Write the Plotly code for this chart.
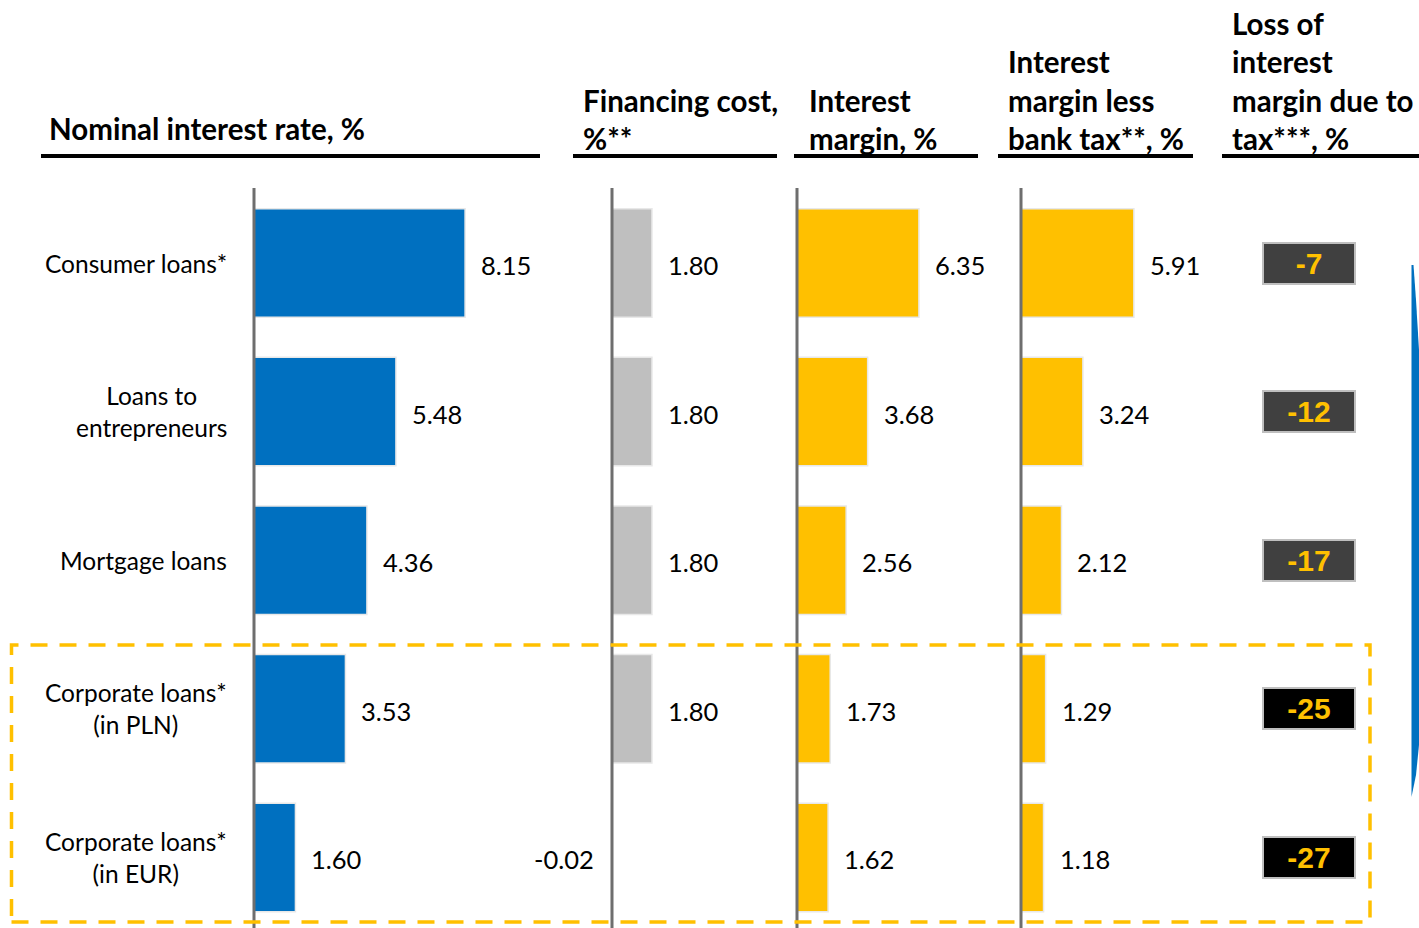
import plotly.graph_objects as go

# ---------------- data ----------------
categories = ["Consumer loans*", "Loans to<br>entrepreneurs", "Mortgage loans",
              "Corporate loans*<br>(in PLN)", "Corporate loans*<br>(in EUR)"]
nominal_rate = [8.15, 5.48, 4.36, 3.53, 1.60]
financing_cost = [1.80, 1.80, 1.80, 1.80, -0.02]
interest_margin = [6.35, 3.68, 2.56, 1.73, 1.62]
margin_less_tax = [5.91, 3.24, 2.12, 1.29, 1.18]
loss_due_to_tax = [-7, -12, -17, -25, -27]

panel_titles = [
    ["Nominal interest rate, %"],
    ["Financing cost,", "%**"],
    ["Interest", "margin, %"],
    ["Interest", "margin less", "bank tax**, %"],
    ["Loss of", "interest", "margin due to", "tax***, %"],
]

# ---------------- styling / layout ----------------
W, H = 1419, 928
FONT = "Lato"
BLUE, GRAY, YELLOW = "#0070C0", "#BFBFBF", "#FFC000"
AXIS_GRAY = "#6E6E6E"
loss_box_colors = ["#404040", "#404040", "#404040", "#000000", "#000000"]


def px(x):
    return x / W


def py(y):
    return 1 - y / H


ROW0, ROWSTEP = 263.0, 148.6
PLOT_TOP = 188
y_top = -(ROW0 - PLOT_TOP) / ROWSTEP
y_bot = (H - ROW0) / ROWSTEP

# (axis name, values, colour, start px, zero px, end px, px per unit)
panels = [
    ("x", nominal_rate, BLUE, 240, 254, 545, 25.9),
    ("x2", financing_cost, GRAY, 580, 612, 780, 22.2),
    ("x3", interest_margin, YELLOW, 785, 797, 1000, 19.2),
    ("x4", margin_less_tax, YELLOW, 1005, 1021, 1220, 19.1),
]

fig = go.Figure()
shapes = []
annotations = []
layout_axes = {}

for name, vals, col, start, zero, end, scale in panels:
    fig.add_trace(go.Bar(
        x=vals, y=categories, orientation="h", xaxis=name, yaxis="y",
        marker=dict(color=col, line=dict(color="#E8E8E8", width=1.5)),
        width=0.73, showlegend=False, hoverinfo="x+y",
    ))
    key = "xaxis" if name == "x" else "xaxis" + name[1:]
    layout_axes[key] = dict(
        domain=[px(start), px(end)],
        range=[-(zero - start) / scale, (end - zero) / scale],
        visible=False, anchor="y", fixedrange=True,
    )
    # vertical axis line at zero
    shapes.append(dict(type="line", xref=name, yref="paper", x0=0, x1=0,
                       y0=0, y1=py(PLOT_TOP), line=dict(color=AXIS_GRAY, width=3)))
    for v, c in zip(vals, categories):
        annotations.append(dict(
            x=v, y=c, xref=name, yref="y", text=f"{v:.2f}", showarrow=False,
            xanchor="left" if v >= 0 else "right", xshift=14 if v >= 0 else -16,
            yshift=-2, font=dict(family=FONT, size=25.5, color="#000000"),
        ))

# category labels (lines centred, block right-aligned)
for c in categories:
    annotations.append(dict(
        x=px(229), y=c, xref="paper", yref="y", text=c, showarrow=False,
        xanchor="right", yanchor="middle", align="center",
        font=dict(family=FONT, size=24.5, color="#000000"),
    ))

# loss boxes
for v, c, bc in zip(loss_due_to_tax, categories, loss_box_colors):
    annotations.append(dict(
        x=px(1309), y=c, xref="paper", yref="y", text=f"<b>{v}</b>", showarrow=False,
        xanchor="center", yanchor="middle", width=90, height=39,
        bgcolor=bc, bordercolor="#BFBFBF", borderwidth=2, borderpad=0,
        font=dict(family="Liberation Sans", size=30, color=YELLOW),
    ))

# panel headers
header_x = [49, 583, 809, 1008, 1232]
HEAD_LINE = 38.5
for tx, lines in zip(header_x, panel_titles):
    n = len(lines)
    last = 129 if n == 1 else 139
    for k, line in enumerate(lines):
        yc = last - (n - 1 - k) * HEAD_LINE
        annotations.append(dict(
            x=px(tx), y=py(yc), xref="paper", yref="paper", text=f"<b>{line}</b>",
            showarrow=False, xanchor="left", yanchor="middle", xshift=-2,
            font=dict(family=FONT, size=29.5, color="#000000"),
        ))

# header underlines
for x0, x1 in [(41, 540), (573, 777), (794, 978), (998, 1193), (1222, 1419)]:
    shapes.append(dict(type="line", xref="paper", yref="paper",
                       x0=px(x0), x1=px(x1), y0=py(156), y1=py(156),
                       line=dict(color="#000000", width=4)))

# yellow dashed frame around corporate loans
shapes.append(dict(type="rect", xref="paper", yref="paper",
                   x0=px(11.5), x1=px(1370), y0=py(922), y1=py(645),
                   line=dict(color=YELLOW, width=3.5, dash="17px,12px")))

# partial blue arc at the right edge
pts = [(1411.5, 265), (1413.5, 265), (1416, 300), (1419, 350), (1419, 745),
       (1416, 775), (1411.5, 797), (1411.5, 700), (1411.5, 400)]
path = "M " + " L ".join(f"{px(x):.5f},{py(y):.5f}" for x, y in pts) + " Z"
shapes.append(dict(type="path", xref="paper", yref="paper", path=path,
                   fillcolor=BLUE, line=dict(width=0)))

fig.update_layout(
    width=W, height=H, margin=dict(l=0, r=0, t=0, b=0),
    paper_bgcolor="white", plot_bgcolor="white",
    barmode="overlay", showlegend=False,
    yaxis=dict(domain=[0, py(PLOT_TOP)], range=[y_bot, y_top], visible=False,
               categoryorder="array", categoryarray=categories, fixedrange=True),
    shapes=shapes, annotations=annotations,
    **layout_axes,
)

fig.write_html("out.html", config={"displayModeBar": False},
               post_script="document.body.style.margin='0';document.body.style.overflow='hidden';")
